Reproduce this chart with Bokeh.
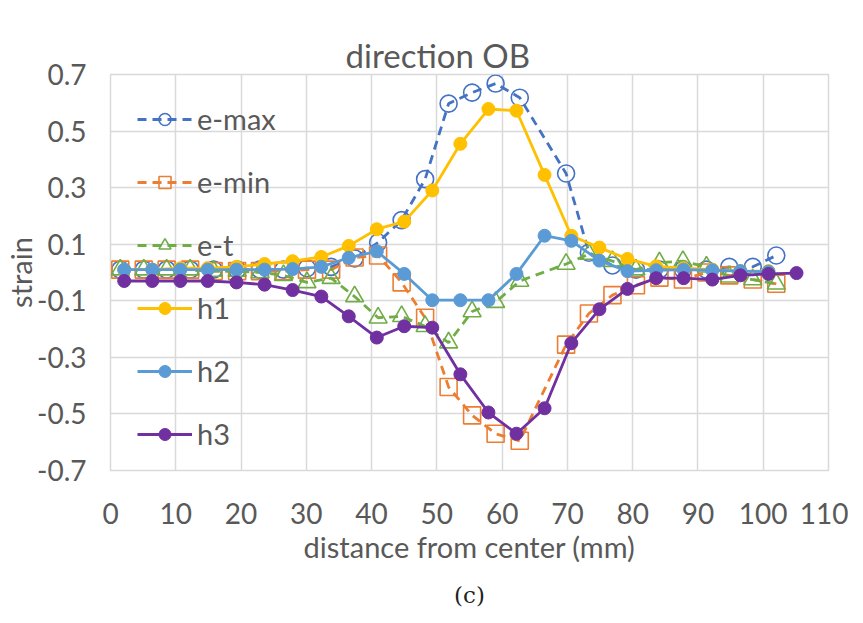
from bokeh.plotting import figure
from bokeh.models import Range1d, FixedTicker, Legend, Title, LinearAxis
from bokeh.embed import file_html
from bokeh.resources import INLINE

# ---- data ----
x_e = [1.5, 5.1, 8.6, 12.2, 15.8, 19.4, 22.9, 26.5, 30.1, 33.8, 37.4, 41.0, 44.6, 48.2,
       51.8, 55.4, 59.0, 62.7, 69.8, 73.3, 76.9, 80.5, 84.1, 87.7, 91.3, 94.8, 98.4, 102.0]
e_max = [0.01, 0.01, 0.01, 0.01, 0.01, 0.01, 0.01, 0.01, 0.015, 0.02, 0.05, 0.106, 0.185, 0.33,
         0.597, 0.636, 0.668, 0.618, 0.35, 0.07, 0.025, 0.01, 0.01, 0.01, 0.01, 0.02, 0.02, 0.06]
e_min = [0.01, 0.01, 0.01, 0.01, 0.005, 0.005, 0.005, 0.005, 0.01, 0.01, 0.053, 0.06, -0.035, -0.16,
         -0.405, -0.505, -0.57, -0.595, -0.255, -0.145, -0.08, -0.045, -0.018, -0.025, 0.0, -0.01, -0.025, -0.04]
e_t = [0.01, 0.01, 0.01, 0.01, 0.005, 0.005, 0.0, -0.01, -0.035, -0.02, -0.085, -0.16, -0.155, -0.19,
       -0.248, -0.138, -0.105, -0.03, 0.03, 0.065, 0.04, 0.01, 0.035, 0.04, 0.02, -0.015, -0.025, -0.04]

x_h = [2.1, 6.4, 10.7, 14.9, 19.3, 23.6, 27.9, 32.3, 36.5, 40.8, 45.0, 49.3, 53.6, 57.9,
       62.2, 66.5, 70.6, 74.9, 79.2, 83.6, 87.8, 92.2, 96.5, 100.8, 105.1]
h1 = [0.01, 0.01, 0.015, 0.015, 0.02, 0.03, 0.04, 0.055, 0.094, 0.153, 0.18, 0.29, 0.455, 0.578,
      0.572, 0.345, 0.13, 0.088, 0.048, 0.022, 0.015, 0.01, 0.005, 0.005]
h2 = [0.01, 0.01, 0.01, 0.01, 0.01, 0.01, 0.012, 0.02, 0.052, 0.075, -0.005, -0.098, -0.098, -0.098,
      -0.005, 0.13, 0.112, 0.042, 0.005, 0.008, 0.01, 0.008, 0.005, 0.003]
h3 = [-0.03, -0.03, -0.03, -0.03, -0.035, -0.043, -0.062, -0.085, -0.155, -0.23, -0.19, -0.195,
      -0.36, -0.495, -0.57, -0.48, -0.25, -0.13, -0.058, -0.02, -0.02, -0.025, -0.01, -0.005, -0.002]

y_ticks = [-0.7, -0.5, -0.3, -0.1, 0.1, 0.3, 0.5, 0.7]
x_ticks = [0, 10, 20, 30, 40, 50, 60, 70, 80, 90, 100, 110]

FONT = "Lato"
GREY = "#595959"

p = figure(frame_width=718, frame_height=396, output_backend="svg", toolbar_location=None,
           x_range=Range1d(0, 110), y_range=Range1d(-0.7, 0.7),
           min_border_left=106, min_border_right=20, min_border_top=74, min_border_bottom=144)
p.title = None

# invisible, text-free spacer axis between the frame and the chart title
spacer = LinearAxis(ticker=FixedTicker(ticks=[]), axis_line_color=None,
                    major_tick_line_color=None, minor_tick_line_color=None,
                    major_tick_out=31, major_tick_in=0, minor_tick_out=0,
                    major_label_standoff=0)
p.add_layout(spacer, "above")
t = Title(text="direction OB", align="left", offset=235, vertical_align="bottom", standoff=0,
          text_font=FONT, text_font_size="33px", text_font_style="normal", text_color=GREY)
p.add_layout(t, "above")

p.outline_line_color = "#D9D9D9"
p.outline_line_width = 1.5

p.xaxis.ticker = FixedTicker(ticks=x_ticks)
p.xaxis[0].ticker = FixedTicker(ticks=x_ticks)
p.yaxis.ticker = FixedTicker(ticks=y_ticks)
p.yaxis.major_label_overrides = {v: ("%.1f" % v) for v in y_ticks}
main_x = p.below[0]
for ax in (main_x, p.yaxis[0]):
    ax.axis_line_color = None
    ax.major_tick_line_color = None
    ax.minor_tick_line_color = None
    ax.major_tick_out = 0
    ax.major_tick_in = 0
    ax.minor_tick_out = 0
    ax.major_label_text_font = FONT
    ax.major_label_text_font_size = "28px"
    ax.major_label_text_color = GREY
    ax.axis_label_text_font = FONT
    ax.axis_label_text_font_size = "29px"
    ax.axis_label_text_font_style = "normal"
    ax.axis_label_text_color = GREY
main_x.ticker = FixedTicker(ticks=x_ticks)
main_x.axis_label = "distance from center (mm)"
main_x.major_label_standoff = 32
main_x.axis_label_standoff = 2
p.yaxis.axis_label = "strain"
p.yaxis.major_label_standoff = 24
p.yaxis.axis_label_standoff = -4
spacer.ticker = FixedTicker(ticks=[])

p.xgrid.ticker = FixedTicker(ticks=x_ticks)
p.ygrid.ticker = FixedTicker(ticks=y_ticks)
p.grid.grid_line_color = "#D9D9D9"
p.grid.grid_line_width = 1.5

items = []
DASH = "9 6"
W = 2.8

r1 = p.line(x_e, e_max, line_color="#4472C4", line_width=W, line_dash=DASH)
r2 = p.scatter(x_e, e_max, marker="circle", size=17, line_color="#4472C4", line_width=1.6, fill_alpha=0)
items.append(("e-max", [r1, r2]))
r1 = p.line(x_e, e_min, line_color="#ED7D31", line_width=W, line_dash=DASH)
r2 = p.scatter(x_e, e_min, marker="square", size=17, line_color="#ED7D31", line_width=1.6, fill_alpha=0)
items.append(("e-min", [r1, r2]))
r1 = p.line(x_e, e_t, line_color="#70AD47", line_width=W, line_dash=DASH)
r2 = p.scatter(x_e, e_t, marker="triangle", size=18, line_color="#70AD47", line_width=1.6, fill_alpha=0)
items.append(("e-t", [r1, r2]))

for name, ys, col in (("h1", h1, "#FFC000"), ("h2", h2, "#5B9BD5"), ("h3", h3, "#7030A0")):
    xs = x_h[:len(ys)]
    r1 = p.line(xs, ys, line_color=col, line_width=W)
    r2 = p.scatter(xs, ys, marker="circle", size=13, line_color=col, fill_color=col)
    items.append((name, [r1, r2]))

leg = Legend(items=items, location="top_left", margin=27, padding=10, spacing=28,
             glyph_width=55, glyph_height=30, label_height=30, label_standoff=5,
             label_text_font=FONT, label_text_font_size="29px", label_text_color=GREY,
             background_fill_alpha=0, border_line_color=None)
p.add_layout(leg)

cap = Title(text="(c)", align="center", text_font="DejaVu Serif", text_font_size="23px",
            text_font_style="normal", text_color="#222222", standoff=26)
p.add_layout(cap, "below")

open("out.html", "w").write(file_html(p, INLINE))
